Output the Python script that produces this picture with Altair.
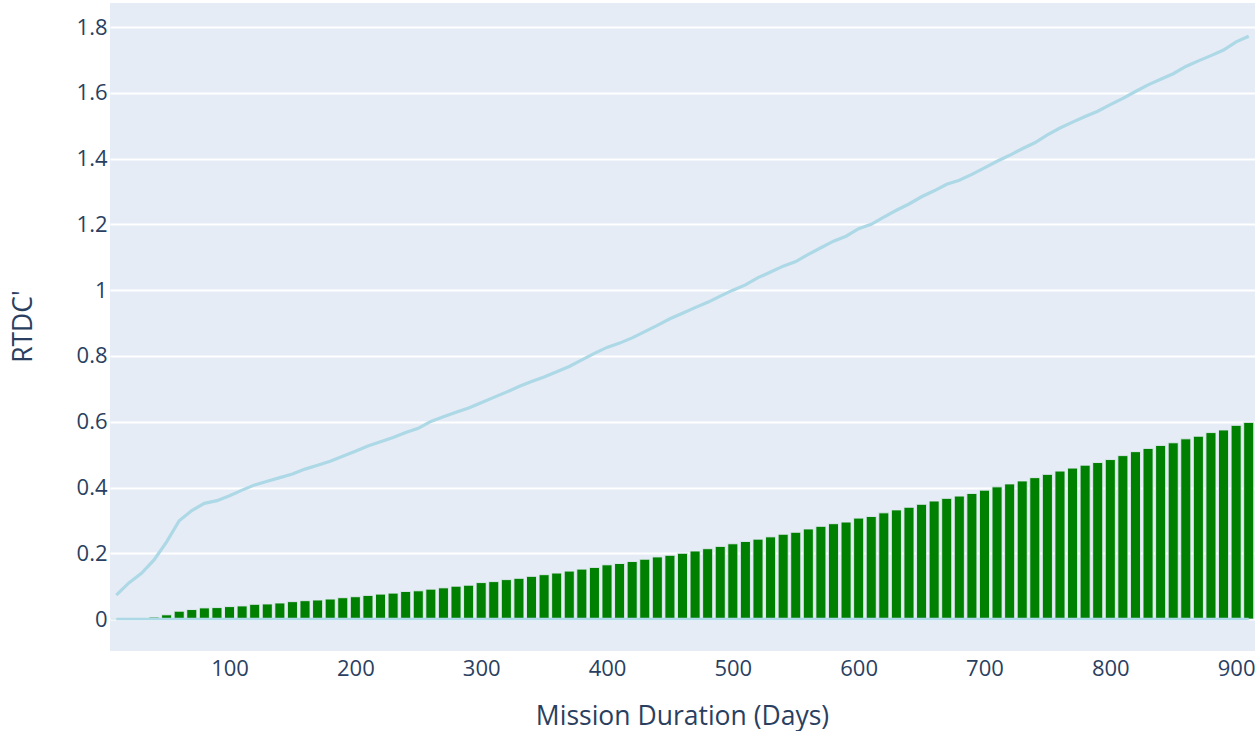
import altair as alt
import pandas as pd

# ---- data ----
days = list(range(10, 911, 10))

rtdc_line = [
    0.073, 0.110, 0.139, 0.180, 0.235, 0.299, 0.330, 0.352, 0.360, 0.375,
    0.392, 0.408, 0.419, 0.430, 0.441, 0.456, 0.468, 0.480, 0.495, 0.510,
    0.526, 0.539, 0.552, 0.567, 0.580, 0.601, 0.615, 0.629, 0.642, 0.658,
    0.674, 0.690, 0.707, 0.722, 0.736, 0.752, 0.768, 0.788, 0.808, 0.826,
    0.839, 0.855, 0.874, 0.893, 0.913, 0.930, 0.947, 0.963, 0.982, 1.000,
    1.016, 1.038, 1.055, 1.073, 1.087, 1.109, 1.129, 1.149, 1.164, 1.187,
    1.200, 1.222, 1.243, 1.262, 1.284, 1.302, 1.322, 1.334, 1.352, 1.372,
    1.392, 1.410, 1.430, 1.448, 1.472, 1.493, 1.511, 1.528, 1.544, 1.564,
    1.583, 1.604, 1.624, 1.641, 1.658, 1.680, 1.697, 1.713, 1.730, 1.755,
    1.772,
]

rtdc_bar = [
    0.001, 0.001, 0.002, 0.006, 0.013, 0.024, 0.029, 0.034, 0.035, 0.038,
    0.040, 0.045, 0.046, 0.049, 0.053, 0.056, 0.058, 0.061, 0.065, 0.068,
    0.072, 0.076, 0.079, 0.084, 0.086, 0.091, 0.095, 0.100, 0.103, 0.111,
    0.114, 0.120, 0.124, 0.130, 0.135, 0.140, 0.146, 0.152, 0.157, 0.165,
    0.169, 0.175, 0.182, 0.189, 0.194, 0.200, 0.207, 0.214, 0.221, 0.229,
    0.236, 0.243, 0.250, 0.258, 0.264, 0.274, 0.282, 0.290, 0.295, 0.307,
    0.312, 0.323, 0.332, 0.340, 0.349, 0.359, 0.367, 0.374, 0.382, 0.392,
    0.402, 0.411, 0.420, 0.430, 0.440, 0.450, 0.459, 0.468, 0.476, 0.485,
    0.497, 0.509, 0.519, 0.528, 0.536, 0.548, 0.556, 0.567, 0.575, 0.589,
    0.598,
]

zero_series = [0.0] * len(days)

x_ticks = [100, 200, 300, 400, 500, 600, 700, 800, 900]
y_ticks = [0, 0.2, 0.4, 0.6, 0.8, 1.0, 1.2, 1.4, 1.6, 1.8]

df = pd.DataFrame({"day": days, "line": rtdc_line, "bar": rtdc_bar, "zero": zero_series})

FONT = "Open Sans"
TXT = "#2a3f5f"
BAR_HALF = 4  # bars span 80% of the 10-day step

x_scale = alt.Scale(domain=[5, 915], nice=False, zero=False)
y_scale = alt.Scale(domain=[-0.097, 1.873], nice=False, zero=False)

x_axis = alt.Axis(
    values=x_ticks, title="Mission Duration (Days)", grid=False, domain=False,
    ticks=False, tickSize=0, labelFontSize=22, labelColor=TXT, labelFont=FONT,
    labelBaseline="alphabetic", labelPadding=24, labelFlush=False,
    titleFontSize=26.5, titleColor=TXT, titleFont=FONT, titleFontWeight="normal",
    titleBaseline="alphabetic", titleX=572, titleY=73, titleAlign="center",
)
y_axis = alt.Axis(
    values=y_ticks, format=".1~f", title="RTDC'", grid=True, gridColor="white",
    gridWidth=2, domain=False, ticks=False, tickSize=0, labelFontSize=22,
    labelColor=TXT, labelFont=FONT, labelBaseline="middle", labelPadding=3,
    titleFontSize=26.5, titleColor=TXT, titleFont=FONT, titleFontWeight="normal",
    titleAngle=-90, titleBaseline="alphabetic", titleAlign="center",
    titleX=-79, titleY=323,
)

base = alt.Chart(df)

bars = base.transform_calculate(
    x0=f"datum.day - {BAR_HALF}", x1=f"datum.day + {BAR_HALF}"
).mark_bar(color="#008000", stroke="#E5ECF6", strokeWidth=0.9).encode(
    x=alt.X("x0:Q", scale=x_scale, axis=x_axis),
    x2="x1:Q",
    y=alt.Y("bar:Q", scale=y_scale, axis=y_axis),
    y2=alt.datum(0),
)

zero_line = base.mark_line(color="#ADD8E6", strokeWidth=2.5).encode(
    x=alt.X("day:Q", scale=x_scale),
    y=alt.Y("zero:Q", scale=y_scale),
)

main_line = base.mark_line(color="#ADD8E6", strokeWidth=3.2).encode(
    x=alt.X("day:Q", scale=x_scale),
    y=alt.Y("line:Q", scale=y_scale),
)

chart = alt.layer(bars, zero_line, main_line).properties(
    width=1145,
    height=648,
    padding={"left": 110, "top": 3, "right": 0, "bottom": 80},
    autosize=alt.AutoSizeParams(type="none"),
    background="white",
).configure_view(fill="#E5ECF6", stroke=None)

chart.save("out.html", embed_options={"renderer": "svg", "actions": False})
